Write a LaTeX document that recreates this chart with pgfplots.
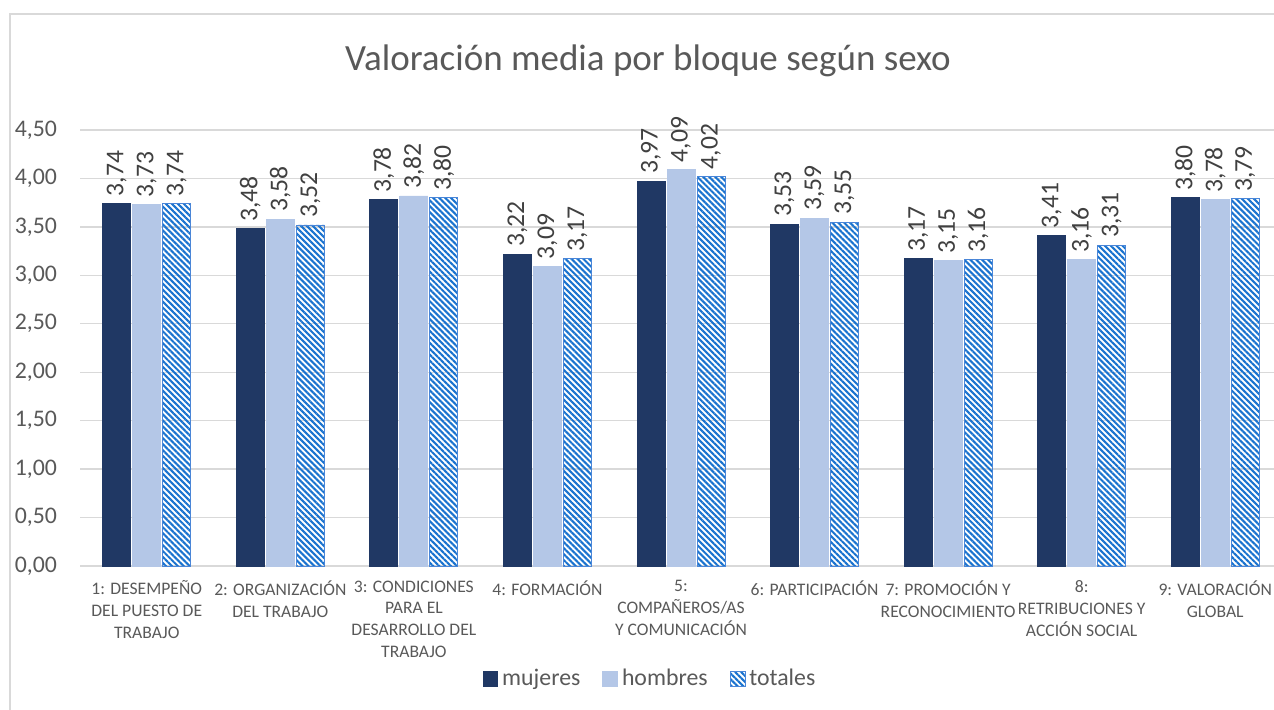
\documentclass[border=0pt]{standalone}
\usepackage{fontspec}
\setmainfont{Carlito}
\usepackage{pgfplots}
\pgfplotsset{compat=1.18}
\usetikzlibrary{patterns.meta}
\definecolor{muj}{HTML}{203864}
\definecolor{hom}{HTML}{B4C7E7}
\definecolor{totline}{HTML}{1A73CF}
\definecolor{totedge}{HTML}{4A86D8}
\definecolor{gridc}{HTML}{D9D9D9}
\definecolor{txt}{HTML}{595959}
\definecolor{lbl}{HTML}{404040}
\begin{document}
\begin{tikzpicture}
\useasboundingbox (0,0) rectangle (637pt,-354.5pt);
\draw[gridc, line width=0.8pt] (5pt,-7pt) rectangle (643pt,-362pt);
\node[text=txt, font=\fontsize{18.5}{22}\selectfont] at (324pt,-30.5pt) {Valoración media por bloque según sexo};
\begin{axis}[
  at={(40pt,-283pt)}, anchor=south west,
  scale only axis, width=601pt, height=218pt,
  ymin=0, ymax=4.5, ytick={0,0.5,1,1.5,2,2.5,3,3.5,4,4.5},
  xmin=-0.5, xmax=8.5, xtick={0,1,2,3,4,5,6,7,8},
  xticklabels={{1: DESEMPEÑO\\DEL PUESTO DE\\TRABAJO},{2: ORGANIZACIÓN\\DEL TRABAJO},{3: CONDICIONES\\PARA EL\\DESARROLLO DEL\\TRABAJO},{4: FORMACIÓN},{5:\\COMPAÑEROS/AS\\Y COMUNICACIÓN},{6: PARTICIPACIÓN},{7: PROMOCIÓN Y\\RECONOCIMIENTO},{8:\\RETRIBUCIONES Y\\ACCIÓN SOCIAL},{9: VALORACIÓN\\GLOBAL}},
  xticklabel style={align=center, font=\fontsize{8.8}{10.9}\selectfont, text=txt, anchor=north, yshift=0.5pt},
  yticklabel style={font=\fontsize{11.9}{14}\selectfont, text=txt, xshift=-8pt},
  /pgf/number format/.cd, fixed, fixed zerofill, precision=2, use comma, assume math mode=true,
  /pgfplots/.cd,
  ybar=1pt, bar width=14pt,
  axis line style={draw=none},
  major tick style={draw=none},
  ymajorgrids, major grid style={gridc, line width=0.7pt},
  nodes near coords={\pgfmathprintnumber[fixed,fixed zerofill,precision=2,use comma,assume math mode=true]{\pgfplotspointmeta}},
  nodes near coords style={rotate=90, anchor=west, font=\fontsize{12.8}{15}\selectfont, text=lbl, inner sep=3.5pt},
  legend style={at={(0.475,-0.258)}, anchor=center, draw=none, fill=none, legend columns=3,
    font=\fontsize{11.9}{14}\selectfont, text=txt,
    /tikz/every even column/.append style={column sep=9pt}},
  legend image code/.code={\draw[#1] (0pt,-3.7pt) rectangle (7.4pt,3.7pt);},
]
\addplot[fill=muj, draw=muj] coordinates {(0,3.74) (1,3.48) (2,3.78) (3,3.22) (4,3.97) (5,3.53) (6,3.17) (7,3.41) (8,3.80)};
\addplot[fill=hom, draw=hom] coordinates {(0,3.73) (1,3.58) (2,3.82) (3,3.09) (4,4.09) (5,3.59) (6,3.15) (7,3.16) (8,3.78)};
\addplot[draw=totedge, pattern={Lines[angle=-45,distance=2.1pt,line width=1.05pt]}, pattern color=totline] coordinates {(0,3.74) (1,3.52) (2,3.80) (3,3.17) (4,4.02) (5,3.55) (6,3.16) (7,3.31) (8,3.79)};
\legend{mujeres,hombres,totales}
\end{axis}
\end{tikzpicture}
\end{document}
